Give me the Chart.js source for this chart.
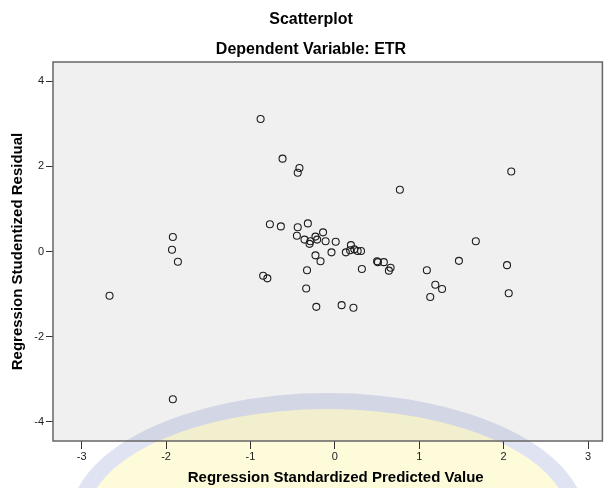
<!DOCTYPE html>
<html><head><meta charset="utf-8">
<script src="https://cdn.jsdelivr.net/npm/chart.js@4"></script>
<style>html,body{margin:0;padding:0;background:#fff;overflow:hidden}canvas{display:block}</style>
</head><body>
<canvas id="c" width="607" height="488"></canvas>
<script>
// Regression standardized predicted values (x) and studentized residuals (y)
const predictedValues = [
  -0.88, -0.62, -0.42, -0.44, -0.77, -0.64, -0.44, -0.32, -0.45, -0.36,
  -0.29, -0.30, -0.23, -0.21, -0.14, -0.11, -1.92, -1.93, -1.86, -2.67,
  -1.92, -0.85, -0.80, -0.33, -0.34, -0.22, -0.23, -0.17,  0.01, -0.04,
   0.13,  0.19,  0.18,  0.23,  0.27,  0.31,  0.32,  0.08,  0.22,  0.50,
   0.51,  0.58,  0.66,  0.64,  0.77,  1.09,  1.47,  1.19,  1.27,  1.13,
   1.67,  2.04,  2.06,  2.09
];
const studentizedResiduals = [
   3.11,  2.18,  1.96,  1.85,  0.64,  0.59,  0.57,  0.66,  0.37,  0.28,
   0.24,  0.18,  0.35,  0.28,  0.45,  0.24,  0.34,  0.04, -0.24, -1.04,
  -3.47, -0.57, -0.63, -0.44, -0.87, -1.30, -0.09, -0.23,  0.23, -0.02,
  -0.02,  0.15,  0.03,  0.05,  0.01,  0.01, -0.41, -1.26, -1.32, -0.23,
  -0.25, -0.25, -0.38, -0.45,  1.45, -0.44, -0.22, -0.78, -0.88, -1.07,
   0.24, -0.32, -0.98,  1.88
];
const xTickValues = [-3, -2, -1, 0, 1, 2, 3];
const yTickValues = [-4, -2, 0, 2, 4];

const FONT = "'Liberation Sans', Arial, sans-serif";
const points = predictedValues.map((x, i) => ({x: x, y: studentizedResiduals[i]}));

const framePlugin = {
  id: 'frame',
  beforeDraw(chart) {
    const {ctx, chartArea: ca} = chart;
    ctx.save();
    ctx.fillStyle = '#ffffff';
    ctx.fillRect(0, 0, chart.width, chart.height);
    ctx.fillStyle = '#f0f0f0';
    ctx.fillRect(ca.left, ca.top, ca.right - ca.left, ca.bottom - ca.top);
    // faint watermark arcs
    const cx = (ca.left + ca.right) / 2;
    const cy = ca.bottom + 79;
    ctx.beginPath();
    ctx.ellipse(cx, cy, 258, 127, 0, 0, Math.PI * 2);
    ctx.ellipse(cx, cy, 241, 111, 0, 0, Math.PI * 2, true);
    ctx.fillStyle = 'rgba(60,80,170,0.16)';
    ctx.fill('evenodd');
    ctx.beginPath();
    ctx.ellipse(cx, cy, 241, 111, 0, 0, Math.PI * 2);
    ctx.fillStyle = 'rgba(252,236,92,0.22)';
    ctx.fill();
    ctx.restore();
  },
  beforeDatasetsDraw(chart) {
    const {ctx, chartArea: ca} = chart;
    ctx.save();
    ctx.strokeStyle = '#666666';
    ctx.lineWidth = 1.5;
    ctx.strokeRect(ca.left, ca.top, ca.right - ca.left, ca.bottom - ca.top);
    ctx.restore();
  }
};

function shiftTitle(scale, dx) {
  if (scale._shifted) return;
  scale._shifted = true;
  const orig = scale.drawTitle;
  scale.drawTitle = function () {
    const ctx = this.ctx;
    ctx.save();
    ctx.translate(dx, 0);
    orig.apply(this, arguments);
    ctx.restore();
  };
}

new Chart(document.getElementById('c'), {
  type: 'scatter',
  data: {
    datasets: [{
      data: points,
      pointStyle: 'circle',
      pointRadius: 3.5,
      pointHoverRadius: 3.5,
      pointBorderWidth: 1.1,
      pointBorderColor: '#1e1e1e',
      pointBackgroundColor: 'rgba(0,0,0,0)'
    }]
  },
  options: {
    responsive: false,
    animation: false,
    devicePixelRatio: 1,
    layout: {padding: {left: 16.5, right: 1.5, top: 0, bottom: 0}},
    plugins: {
      legend: {display: false},
      tooltip: {enabled: false},
      title: {
        display: true, text: 'Scatterplot', color: '#000',
        font: {family: FONT, size: 16, weight: 'bold'},
        padding: {top: 10, bottom: 0}
      },
      subtitle: {
        display: true, text: 'Dependent Variable: ETR', color: '#000',
        font: {family: FONT, size: 16, weight: 'bold'},
        padding: {top: 11.2, bottom: 2.4}
      }
    },
    scales: {
      x: {
        type: 'linear', position: 'bottom', min: -3.34, max: 3.17,
        afterBuildTicks: s => { s.ticks = xTickValues.map(v => ({value: v})); },
        afterFit: s => { s.height = 47; shiftTitle(s, 8); },
        border: {display: false},
        grid: {display: true, drawOnChartArea: false, drawTicks: true, tickLength: 8, tickColor: '#333', tickWidth: 1},
        ticks: {color: '#222', font: {family: FONT, size: 11}, padding: 1, maxRotation: 0, autoSkip: false},
        title: {
          display: true, text: 'Regression Standardized Predicted Value', color: '#000',
          font: {family: FONT, size: 15, weight: 'bold'}, padding: {top: 0, bottom: 1}
        }
      },
      y: {
        type: 'linear', position: 'left', min: -4.45, max: 4.45,
        afterBuildTicks: s => { s.ticks = yTickValues.map(v => ({value: v})); },
        afterFit: s => { s.width = 36.5; },
        border: {display: false},
        grid: {display: true, drawOnChartArea: false, drawTicks: true, tickLength: 7, tickColor: '#333', tickWidth: 1},
        ticks: {color: '#222', font: {family: FONT, size: 11}, padding: 2, autoSkip: false},
        title: {
          display: true, text: 'Regression Studentized Residual', color: '#000',
          font: {family: FONT, size: 15, weight: 'bold'}, padding: {top: -7.5, bottom: 0}
        }
      }
    }
  },
  plugins: [framePlugin]
});
</script>
</body></html>
